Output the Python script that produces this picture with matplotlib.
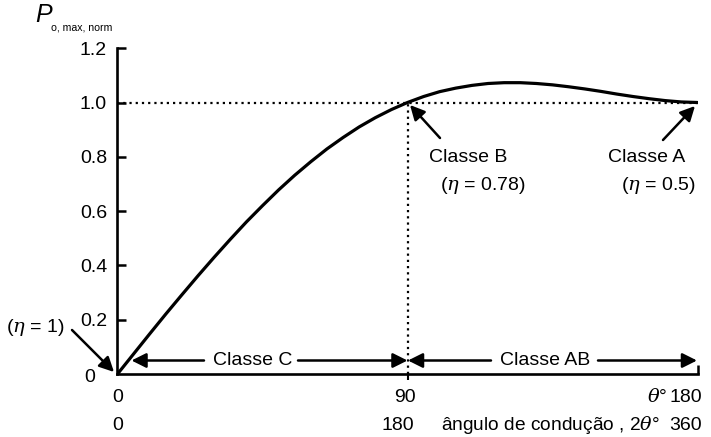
import matplotlib
matplotlib.use("Agg")
import matplotlib.pyplot as plt

# Normalised maximum output power vs half conduction angle theta (degrees)
theta_deg = [0, 5, 10, 15, 20, 25, 30, 35, 40, 45, 50, 55, 60, 65, 70, 75, 80, 85, 90,
             95, 100, 105, 110, 115, 120, 125, 130, 135, 140, 145, 150, 155, 160, 165, 170, 175, 180]
p_norm = [0.0, 0.074, 0.148, 0.221, 0.292, 0.362, 0.430, 0.496, 0.560, 0.620, 0.678,
          0.732, 0.782, 0.829, 0.871, 0.910, 0.944, 0.974, 1.0,
          1.022, 1.040, 1.053, 1.063, 1.070, 1.073, 1.073, 1.070, 1.065, 1.058, 1.050,
          1.041, 1.031, 1.022, 1.014, 1.007, 1.002, 1.0]

y_ticks = [0.2, 0.4, 0.6, 0.8, 1.0, 1.2]
y_tick_labels = ["0.2", "0.4", "0.6", "0.8", "1.0", "1.2"]

plt.rcParams["font.family"] = ["Liberation Sans", "DejaVu Sans"]
plt.rcParams["mathtext.fontset"] = "custom"
plt.rcParams["mathtext.it"] = "DejaVu Serif:italic"
plt.rcParams["mathtext.rm"] = "Liberation Sans"

W, H = 711, 437
fig = plt.figure(figsize=(W / 100, H / 100), dpi=100)
x0, x1 = 117.5, 697.5
y0, y1 = 374.0, 48.2
ax = fig.add_axes([x0 / W, 1 - y0 / H, (x1 - x0) / W, (y0 - y1) / H])
ax.set_xlim(0, 180)
ax.set_ylim(0, 1.2)


def px2data(px, py):
    return ((px - x0) / (x1 - x0) * 180, (y0 - py) / (y0 - y1) * 1.2)


for s in ("top", "right"):
    ax.spines[s].set_visible(False)
for s in ("left", "bottom"):
    ax.spines[s].set_linewidth(1.9)

fs = 14
ax.set_yticks(y_ticks)
ax.set_yticklabels(y_tick_labels, fontsize=fs)
ax.tick_params(axis="y", direction="in", length=6.5, width=1.8, pad=7.5)
ax.set_xticks([180])
ax.set_xticklabels([])
ax.set_xticks([90], minor=True)
ax.tick_params(axis="x", which="major", direction="in", length=6.5, width=1.8)
ax.tick_params(axis="x", which="minor", direction="out", length=4, width=1.5)

# reference lines
dots = (0, (1, 1.8))
ax.plot([0, 180], [1.0, 1.0], color="black", lw=1.6, ls=dots)
ax.plot([90, 90], [0, 1.0], color="black", lw=1.6, ls=dots)

# curve
ax.plot(theta_deg, p_norm, color="black", lw=2.3, solid_capstyle="round",
        solid_joinstyle="round")

# y label P_{o, max, norm}
fig.text(35 / W, 1 - 15 / H, "P", fontsize=18, style="italic", ha="left", va="center")
fig.text(51 / W, 1 - 27 / H, "o, max, norm", fontsize=7.6, ha="left", va="center")
fig.text(95 / W, 1 - 378 / H, "0", fontsize=fs, ha="right", va="center")


def ftext(px, py, s, ha="center", size=fs):
    fig.text(px / W, 1 - py / H, s, fontsize=size, ha=ha, va="center")


# bottom axis labels: theta row and conduction-angle row
ftext(118, 397, "0")
ftext(405, 397, "90")
ftext(686, 397, "180")
ftext(667, 397, r"$\theta$°", ha="right")
ftext(118, 425, "0")
ftext(398, 425, "180")
ftext(686, 425, "360")
ftext(660, 425, r"ângulo de condução , 2$\theta$°", ha="right", size=13.8)

arrow = dict(arrowstyle="-|>", color="black", lw=1.8, mutation_scale=22, shrinkA=0, shrinkB=0)


def arr(tip, tail):
    ax.annotate("", xy=px2data(*tip), xytext=px2data(*tail), arrowprops=arrow,
                annotation_clip=False)


# class ranges along the bottom
yr = 360.5
ax.text(*px2data(253, yr), "Classe C", fontsize=fs, ha="center", va="center")
arr((131.5, yr), (204, yr))
arr((407.5, yr), (298, yr))
ax.text(*px2data(545, yr), "Classe AB", fontsize=fs, ha="center", va="center")
arr((408, yr), (491, yr))
arr((697, yr), (598, yr))

# class B / class A / eta = 1 callouts
arr((410, 105), (440, 138))
ax.text(*px2data(468, 157), "Classe B", fontsize=fs, ha="center", va="center")
ax.text(*px2data(483, 185), r"$(\eta$ = 0.78)", fontsize=fs, ha="center", va="center")

arr((695, 106), (663, 140))
ax.text(*px2data(647, 157), "Classe A", fontsize=fs, ha="center", va="center")
ax.text(*px2data(658, 185), r"$(\eta$ = 0.5)", fontsize=fs, ha="center", va="center")

arr((114, 372), (72, 330))
ftext(35, 327, r"$(\eta$ = 1)")

fig.savefig("out.png", dpi=100)
